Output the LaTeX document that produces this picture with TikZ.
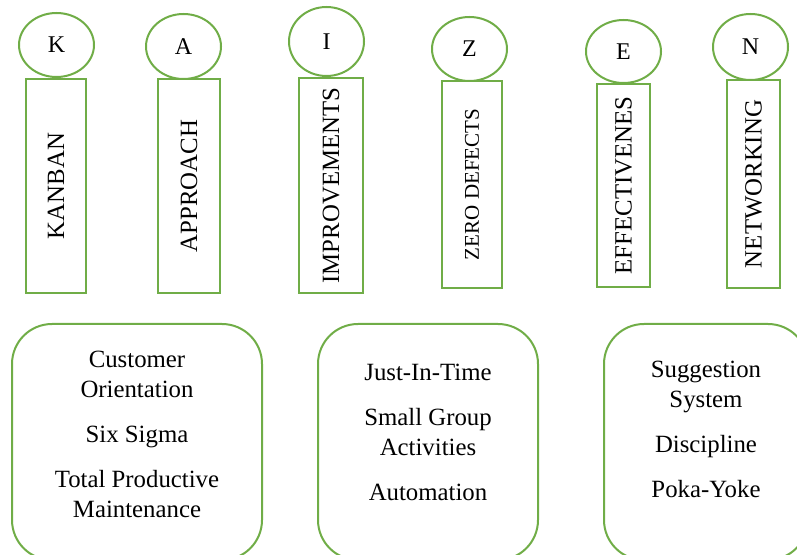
\documentclass[tikz,border=0pt]{standalone}
\usepackage{fontspec}
\setmainfont{Liberation Serif}
\newfontfamily\timesfont{Liberation Serif}
\usepackage{tikz}
\usetikzlibrary{shapes.geometric}
\definecolor{leafgreen}{RGB}{112,173,71}

\begin{document}
\begin{tikzpicture} [ x=0.5pt, y=-0.5pt,
    every node/.style={align=center, inner sep=0pt},
    letter/.style= {ellipse, draw=leafgreen, line width=1pt,
    minimum width=37.5pt, font=\timesfont\fontsize{12}{14}\selectfont},
    pillar/.style= {rectangle, draw=leafgreen, line width=1pt, rotate=90,
    font=\timesfont\fontsize{12.4}{15}\selectfont},
    panel/.style={rectangle, draw=leafgreen, line width=1pt,
    rounded corners=20pt, minimum height=118pt},
    items/.style={font=\timesfont\fontsize{12.4}{15}\selectfont}
    ]
    \useasboundingbox (0,0) rectangle (797,555);

    % letters
    \node (k) [letter, minimum height=32pt] at (56.5,45) {K};
    \node (a) [letter, minimum height=32.5pt] at (183.5,46.5) {A};
    \node (i) [letter, minimum height=34.5pt] at (326.5,41.5) {I};
    \node (z) [letter, minimum height=32pt] at (469.5,49) {Z};
    \node (e) [letter, minimum height=31.5pt] at (623.5,51.5) {E};
    \node (n) [letter, minimum height=33pt] at (750.5,47) {N};

    % words
    \node (kanban) [pillar, minimum width=107pt, minimum height=30pt]
      at (56,186) {KANBAN};
    \node (approach) [pillar, minimum width=107pt, minimum height=31pt]
      at (189,186) {APPROACH};
    \node (improve) [pillar, minimum width=107.5pt, minimum height=32pt]
      at (331,185.5) {IMPROVEMENTS};
    \node (zero) [pillar, minimum width=103.5pt, minimum height=30pt,
      font=\timesfont\fontsize{10.5}{12}\selectfont] at (472,184.5) {ZERO DEFECTS};
    \node (effect) [pillar, minimum width=101.5pt, minimum height=26.5pt]
      at (623.5,185.5) {EFFECTIVENES};
    \node (network) [pillar, minimum width=104pt, minimum height=26.5pt]
      at (753.5,184) {NETWORKING};

    % bottom panels
    \node (box1) [panel, minimum width=125pt] at (137,442) {};
    \node (box2) [panel, minimum width=110pt] at (428,442) {};
    \node (box3) [panel, minimum width=102pt] at (706,442) {};

    \node (list1) [items] at (137,434)
      {Customer\\Orientation\\[7.5pt]Six Sigma\\[7.5pt]Total Productive\\Maintenance};
    \node (list2) [items] at (428,432)
      {Just-In-Time\\[7.5pt]Small Group\\Activities\\[7.5pt]Automation};
    \node (list3) [items] at (706,429)
      {Suggestion\\System\\[7.5pt]Discipline\\[7.5pt]Poka-Yoke};
  \end{tikzpicture}
\end{document}
